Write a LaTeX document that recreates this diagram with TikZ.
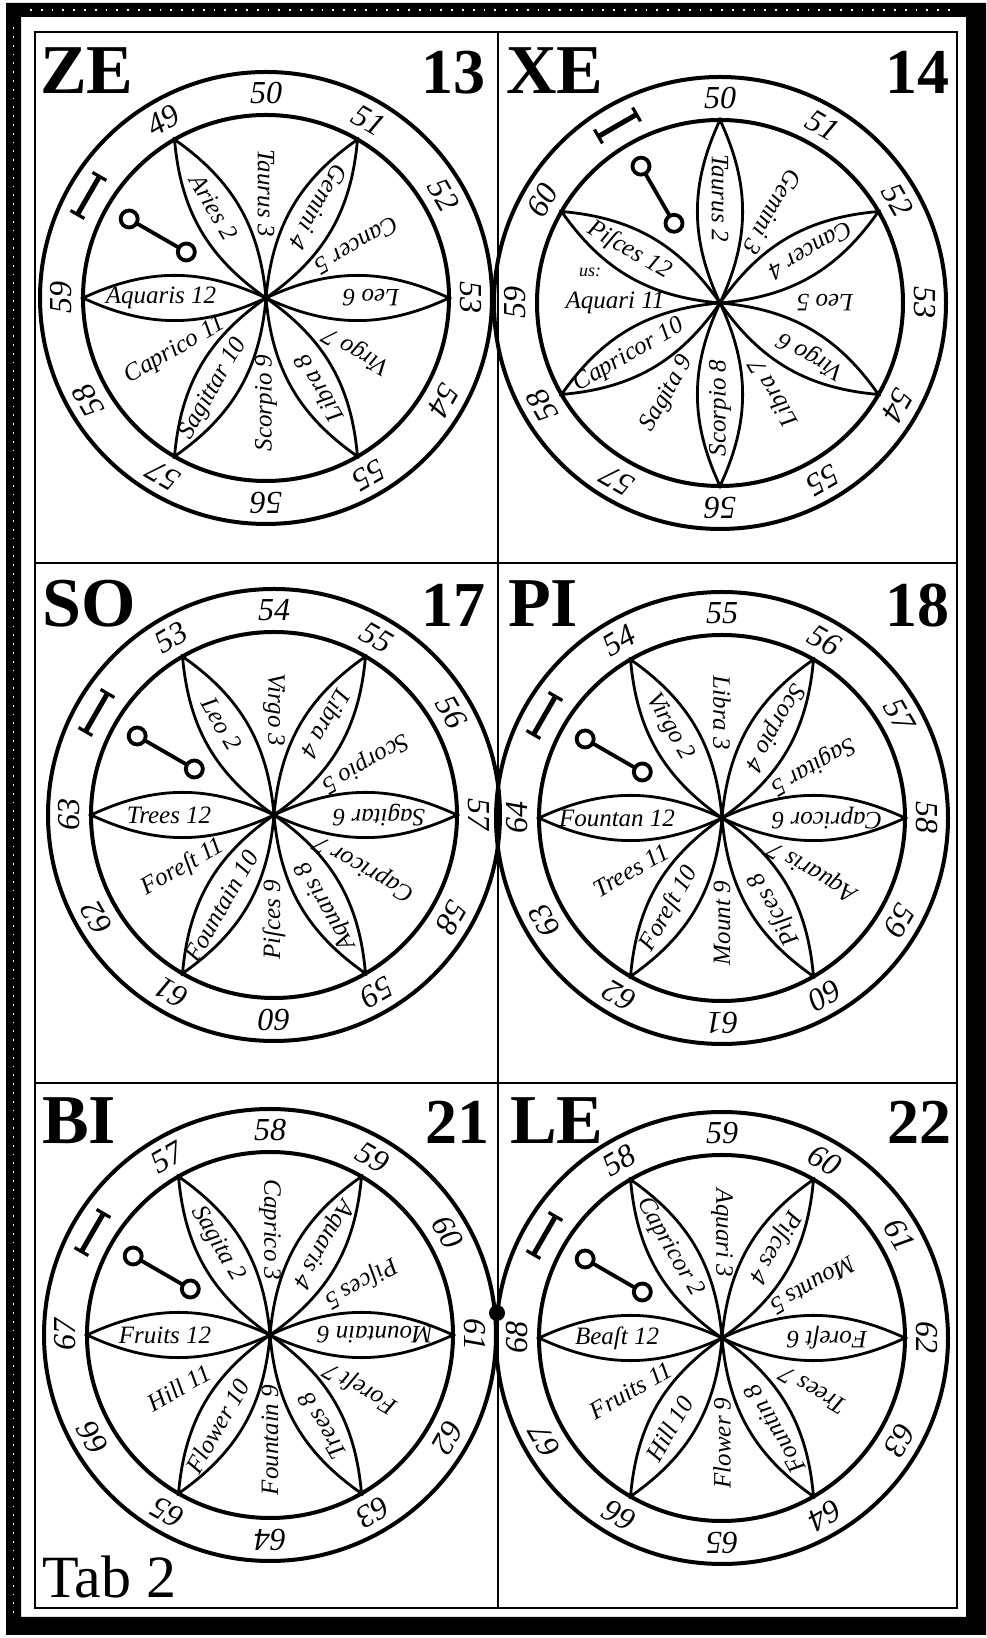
\documentclass[tikz,border=0pt]{standalone}
\usepackage{fontspec}
\setmainfont{Liberation Serif}
\newcommand\Panel[6]{%
\begin{scope}[shift={(#2,#3)}]
 \coordinate (#1c) at (0,0);
 \draw[ring] (0,0) circle (226);
 \draw[ring] (0,0) circle (183);
 \foreach \k in {0,...,5}{\pgfmathsetmacro\a{#4-30-60*\k}
   \draw[petal] (0,0) to[bend left=25] (\a:183) to[bend left=25] (0,0);}
 \foreach \t [count=\k from 1] in {#6}{\pgfmathsetmacro\a{#4-30*\k}
   \node[lab, rotate=\a+180] (#1l\k) at (\a:105) {\t};}
 \foreach \j in {0,...,10}{\pgfmathsetmacro\a{#4-30-30*\j}\pgfmathtruncatemacro\n{#5+\j}
   \node[num, rotate=\a-90] (#1n\j) at (\a:205) {\n};}
 \begin{scope}[shift={(#4:205)}, rotate=#4]
  \draw[line width=5pt] (0,-22) -- (0,22);
  \draw[line width=3.2pt] (-8,-22) -- (8,-22) (-8,22) -- (8,22);
 \end{scope}
 \coordinate (#1d1) at (#4:92);
 \coordinate (#1d2) at (#4:158);
 \draw[dumb] (#1d1) -- (#1d2);
 \draw[dumb, fill=white] (#1d1) circle (8.5) (#1d2) circle (8.5);
\end{scope}}
\begin{document}
\begin{tikzpicture}[x=1pt,y=1pt,
  ring/.style={line width=4pt},
  petal/.style={line width=2.8pt},
  framel/.style={line width=2.5pt},
  dumb/.style={line width=3.8pt},
  lab/.style={font=\fontsize{25}{27}\selectfont\itshape, inner sep=0pt},
  num/.style={font=\fontsize{32}{34}\selectfont\itshape, inner sep=0pt},
  head/.style={font=\fontsize{70}{72}\selectfont\bfseries, inner sep=0pt},
  headnum/.style={font=\fontsize{64}{66}\selectfont\bfseries, inner sep=0pt}]
\useasboundingbox (0,0) rectangle (986,1638);
\fill[white] (0,0) rectangle (986,1638);
% black border
\fill[black, even odd rule] (6,3) rectangle (986,1635) (21,21) rectangle (966,1621);
\draw[white, line width=1.8pt, dash pattern=on 1.8pt off 7pt] (13.5,25) -- (13.5,1615);
\draw[white, line width=1.8pt, dash pattern=on 1.8pt off 9pt] (30,1628) -- (950,1628);
% frame
\draw[framel] (35,30) rectangle (957,1606);
\draw[framel] (498,30) -- (498,1606);
\draw[framel] (35,1075) -- (957,1075);
\draw[framel] (35,555) -- (957,555);
% panels
\Panel{ZE}{266}{1340}{150}{49}{Aries 2,Taurus 3,Gemini 4,Cancer 5,Leo 6,Virgo 7,Libra 8,Scorpio 9,Sagittar 10,Caprico 11,Aquaris 12}
\Panel{XE}{720}{1335}{120}{50}{Taurus 2,Gemini 3,Cancer 4,Leo 5,Virgo 6,Libra 7,Scorpio 8,Sagita 9,Capricor 10,Aquari 11,Piſces 12}
\Panel{SO}{274}{823}{150}{53}{Leo 2,Virgo 3,Libra 4,Scorpio 5,Sagitar 6,Capricor 7,Aquaris 8,Piſces 9,Fountain 10,Foreſt 11,Trees 12}
\Panel{PI}{722}{820}{150}{54}{Virgo 2,Libra 3,Scorpio 4,Sagitar 5,Capricor 6,Aquaris 7,Piſces 8,Mount 9,Foreſt 10,Trees 11,Fountan 12}
\Panel{BI}{270}{303}{150}{57}{Sagita 2,Caprico 3,Aquaris 4,Piſces 5,Mountain 6,Foreſt 7,Trees 8,Fountain 9,Flower 10,Hill 11,Fruits 12}
\Panel{LE}{722}{300}{150}{58}{Capricor 2,Aquari 3,Piſces 4,Mounts 5,Foreſt 6,Trees 7,Fountin 8,Flower 9,Hill 10,Fruits 11,Beaſt 12}
\node[font=\fontsize{18}{20}\selectfont\itshape, inner sep=0pt] (us) at (590,1366) {us:};
\fill (497,325) circle (8);
% headings
\node[head, anchor=base west] (hZE) at (40,1544) {ZE};
\node[headnum, anchor=base east] (h13) at (486,1544) {13};
\node[head, anchor=base west] (hXE) at (506,1544) {XE};
\node[headnum, anchor=base east] (h14) at (950,1544) {14};
\node[head, anchor=base west] (hSO) at (42,1011) {SO};
\node[headnum, anchor=base east] (h17) at (486,1011) {17};
\node[head, anchor=base west] (hPI) at (508,1011) {PI};
\node[headnum, anchor=base east] (h18) at (950,1011) {18};
\node[head, anchor=base west] (hBI) at (42,494) {BI};
\node[headnum, anchor=base east] (h21) at (490,494) {21};
\node[head, anchor=base west] (hLE) at (510,494) {LE};
\node[headnum, anchor=base east] (h22) at (952,494) {22};
\node[font=\fontsize{60}{62}\selectfont, inner sep=0pt, anchor=base west] (tab) at (42,40) {Tab 2};
\end{tikzpicture}
\end{document}
